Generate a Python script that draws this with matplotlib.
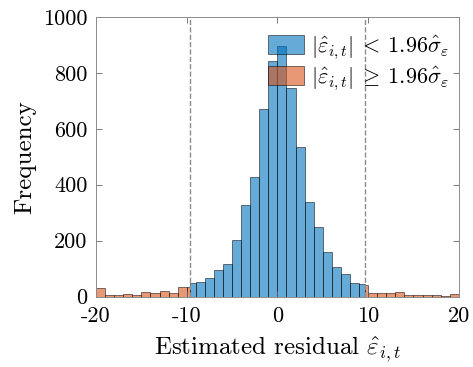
import numpy as np
import matplotlib
matplotlib.use("Agg")
import matplotlib.pyplot as plt
from matplotlib.patches import Patch

plt.rcParams['font.family'] = 'cmr10'
plt.rcParams['mathtext.fontset'] = 'cm'
plt.rcParams['axes.unicode_minus'] = False
plt.rcParams['axes.formatter.use_mathtext'] = False

## threshold 1.96*sigma_hat
thr = 9.69

## residuals inside the band (blue), bin edges clipped at the threshold
in_edges = [-thr, -9, -8, -7, -6, -5, -4, -3, -2, -1, 0,
            1, 2, 3, 4, 5, 6, 7, 8, 9, thr]
in_counts = [48, 51, 68, 95, 118, 202, 326, 429, 670, 843,
             895, 745, 536, 338, 250, 160, 107, 80, 50, 45]

## residuals outside the band (orange)
out_left_edges = [-20, -19, -18, -17, -16, -15, -14, -13, -12, -11, -10, -thr]
out_left_counts = [30, 7, 5, 10, 6, 16, 12, 20, 14, 34, 34]
out_right_edges = [thr, 10, 11, 12, 13, 14, 15, 16, 17, 18, 19, 20]
out_right_counts = [42, 14, 14, 14, 15, 7, 4, 7, 4, 3, 10]

blue = (0.0, 0.447, 0.741)
orange = (0.85, 0.325, 0.098)

fig = plt.figure(figsize=(4.73, 3.67), dpi=100)
ax = fig.add_axes([0.203, 0.192, 0.767, 0.762])

e = np.array(in_edges)
ax.bar(e[:-1], in_counts, width=np.diff(e), align='edge',
       color=blue, alpha=0.6, edgecolor='black', linewidth=0.6)
for edges, counts in [(out_left_edges, out_left_counts),
                      (out_right_edges, out_right_counts)]:
    e = np.array(edges)
    ax.bar(e[:-1], counts, width=np.diff(e), align='edge',
           color=orange, alpha=0.6, edgecolor='black', linewidth=0.6)

ax.plot([-thr, -thr], [0, 1000], '--', color='0.55', lw=1.0)
ax.plot([thr, thr], [0, 1000], '--', color='0.55', lw=1.0)

ax.set_xlim(-20, 20)
ax.set_ylim(0, 1000)
ax.set_xticks([-20, -10, 0, 10, 20])
ax.set_yticks([0, 200, 400, 600, 800, 1000])
ax.tick_params(direction='in', top=True, right=True, labelsize=16,
               length=4, width=0.6, color='0.4')
ax.tick_params(axis='x', pad=7)
ax.tick_params(axis='y', pad=6)
for s in ax.spines.values():
    s.set_color('0.55')
    s.set_linewidth(0.7)

ax.set_xlabel(r'Estimated residual $\hat{\varepsilon}_{i,t}$', fontsize=18,
              labelpad=6)
ax.set_ylabel('Frequency', fontsize=18, labelpad=5)

handles = [Patch(facecolor=blue, alpha=0.6, edgecolor='black', linewidth=0.6),
           Patch(facecolor=orange, alpha=0.6, edgecolor='black', linewidth=0.6)]
labels = [r'$|\hat{\varepsilon}_{i,t}|\:<\:1.96\hat{\sigma}_\varepsilon$',
          r'$|\hat{\varepsilon}_{i,t}|\:\geq\:1.96\hat{\sigma}_\varepsilon$']
ax.legend(handles, labels, loc='upper right', bbox_to_anchor=(1.0, 0.972),
          frameon=False, fontsize=16,
          handlelength=1.6, handleheight=0.95, handletextpad=0.35,
          labelspacing=0.12, borderaxespad=0.1, borderpad=0.3)

fig.savefig('out.png', dpi=100)
